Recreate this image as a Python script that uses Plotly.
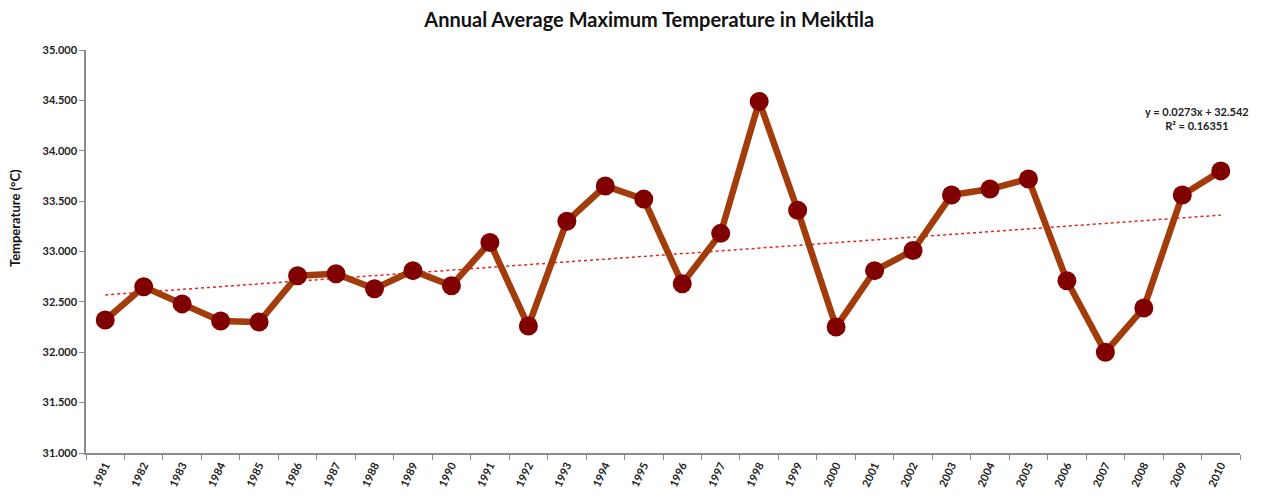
import plotly.graph_objects as go

# Annual average maximum temperature, Meiktila (°C)
years = [str(y) for y in range(1981, 2011)]
temps = [32.32, 32.65, 32.48, 32.31, 32.30, 32.76, 32.78, 32.63, 32.81, 32.66,
         33.09, 32.26, 33.30, 33.65, 33.52, 32.68, 33.18, 34.49, 33.41, 32.25,
         32.81, 33.01, 33.56, 33.62, 33.72, 32.71, 32.00, 32.44, 33.56, 33.80]

# Linear trend reported for the series (x = 1 for the first year)
slope = 0.0273
intercept = 32.542
r_squared = 0.16351

trend = [slope * (i + 1) + intercept for i in range(len(years))]

label_font = dict(family="Lato, Open Sans, sans-serif", size=11, color="#222222", weight="bold")

fig = go.Figure()

fig.add_trace(go.Scatter(
    x=years, y=trend, mode="lines",
    line=dict(color="#e8231e", width=1.5, dash="dot"),
    hoverinfo="skip", showlegend=False,
))

fig.add_trace(go.Scatter(
    x=years, y=temps, mode="lines+markers",
    line=dict(color="#a23c0a", width=6.5),
    marker=dict(color="#800000", size=19, line=dict(width=0)),
    showlegend=False,
))

# Trend equation and fit quality
fig.add_annotation(
    x=0.963, y=0.83, xref="paper", yref="paper",
    text=f"y = {slope}x + {intercept}<br>R² = {r_squared}",
    showarrow=False, xanchor="center", yanchor="middle",
    font=dict(family="Lato, Open Sans, sans-serif", size=11, color="#222222", weight="bold"),
    align="center",
)

# Y-axis title as a rotated annotation, left of the tick labels
fig.add_annotation(
    x=-0.0615, y=0.583, xref="paper", yref="paper",
    text="Temperature (°C)", textangle=-90,
    showarrow=False, xanchor="center", yanchor="middle",
    font=dict(family="Lato, Open Sans, sans-serif", size=13, color="#111111", weight="bold"),
)

fig.update_layout(
    width=1263, height=501, autosize=False,
    margin=dict(l=86, r=23, t=50, b=46),
    paper_bgcolor="white", plot_bgcolor="white",
    title=dict(
        text="Annual Average Maximum Temperature in Meiktila",
        x=0.514, xref="container", xanchor="center",
        y=0.96, yref="container", yanchor="middle",
        font=dict(family="Lato, Open Sans, sans-serif", size=20, color="#111111", weight="bold"),
    ),
    xaxis=dict(
        type="category", range=[-0.5, len(years) - 0.5],
        tickson="boundaries", ticks="outside", ticklen=5, tickcolor="#8c8c8c",
        showline=True, linecolor="#8c8c8c", linewidth=1.5,
        showgrid=False, zeroline=False,
        tickangle=-65, tickfont=label_font,
    ),
    yaxis=dict(
        range=[31, 35], dtick=0.5, tickformat=".3f",
        ticks="outside", ticklen=5, tickcolor="#8c8c8c",
        showline=True, linecolor="#8c8c8c", linewidth=1.5,
        showgrid=False, zeroline=False,
        tickfont=label_font,
    ),
)

fig.write_html("out.html")
